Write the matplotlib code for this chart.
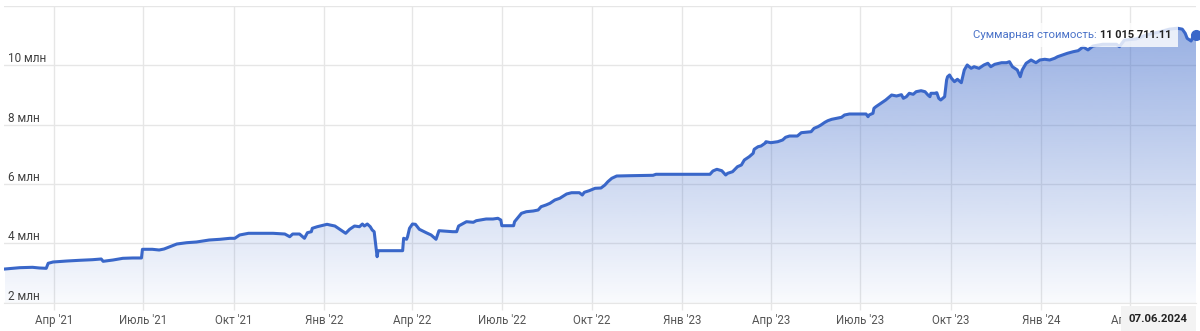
import numpy as np
import pandas as pd
import matplotlib
matplotlib.use('Agg')
import matplotlib.pyplot as plt
import matplotlib.dates as mdates
import matplotlib.transforms as mtransforms
from matplotlib.patches import Rectangle

plt.rcParams['font.family'] = ['Roboto', 'DejaVu Sans']

# ---- данные: стоимость портфеля, млн руб ----
dates = [
    "2021-02-10", "2021-02-18", "2021-02-25", "2021-03-10", "2021-03-17", "2021-03-24", "2021-03-26", "2021-03-31",
    "2021-04-14", "2021-04-27", "2021-05-10", "2021-05-19", "2021-05-21", "2021-05-31", "2021-06-10", "2021-06-20", "2021-06-29",
    "2021-06-30", "2021-07-10", "2021-07-17", "2021-07-22", "2021-07-28", "2021-08-04", "2021-08-14", "2021-08-24", "2021-09-06",
    "2021-09-17", "2021-09-27", "2021-10-02", "2021-10-07", "2021-10-16", "2021-10-28", "2021-11-10", "2021-11-22", "2021-11-27",
    "2021-11-30", "2021-12-07", "2021-12-12", "2021-12-15", "2021-12-19", "2021-12-20", "2021-12-25", "2022-01-04", "2022-01-07",
    "2022-01-12", "2022-01-17", "2022-01-23", "2022-01-27", "2022-02-01", "2022-02-06", "2022-02-09", "2022-02-11", "2022-02-14",
    "2022-02-17", "2022-02-19", "2022-02-21", "2022-02-22", "2022-02-24", "2022-02-25", "2022-03-22", "2022-03-23", "2022-03-26",
    "2022-03-27", "2022-03-29", "2022-04-01", "2022-04-04", "2022-04-08", "2022-04-15", "2022-04-20", "2022-04-25", "2022-04-28",
    "2022-05-12", "2022-05-16", "2022-05-18", "2022-05-26", "2022-06-02", "2022-06-05", "2022-06-15", "2022-06-22", "2022-06-27",
    "2022-06-30", "2022-07-01", "2022-07-13", "2022-07-14", "2022-07-21", "2022-07-26", "2022-08-02", "2022-08-07", "2022-08-10",
    "2022-08-15", "2022-08-19", "2022-08-24", "2022-08-29", "2022-09-05", "2022-09-10", "2022-09-18", "2022-09-21", "2022-09-23",
    "2022-09-28", "2022-10-04", "2022-10-10", "2022-10-14", "2022-10-17", "2022-10-21", "2022-10-26", "2022-11-08", "2022-12-02",
    "2022-12-05", "2023-01-29", "2023-02-01", "2023-02-05", "2023-02-10", "2023-02-14", "2023-02-16", "2023-02-21", "2023-02-26",
    "2023-03-02", "2023-03-05", "2023-03-10", "2023-03-14", "2023-03-15", "2023-03-19", "2023-03-22", "2023-03-26", "2023-03-27",
    "2023-04-01", "2023-04-08", "2023-04-13", "2023-04-16", "2023-04-20", "2023-04-28", "2023-05-02", "2023-05-12", "2023-05-15",
    "2023-05-19", "2023-05-22", "2023-05-26", "2023-05-29", "2023-06-02", "2023-06-07", "2023-06-12", "2023-06-15", "2023-06-20",
    "2023-07-07", "2023-07-09", "2023-07-10", "2023-07-14", "2023-07-15", "2023-07-17", "2023-07-22", "2023-07-27", "2023-07-31",
    "2023-08-02", "2023-08-07", "2023-08-12", "2023-08-14", "2023-08-17", "2023-08-20", "2023-08-24", "2023-08-27", "2023-09-01",
    "2023-09-05", "2023-09-08", "2023-09-10", "2023-09-11", "2023-09-15", "2023-09-17", "2023-09-19", "2023-09-21", "2023-09-25",
    "2023-09-27", "2023-09-28", "2023-09-30", "2023-10-02", "2023-10-05", "2023-10-08", "2023-10-12", "2023-10-15", "2023-10-18",
    "2023-10-22", "2023-10-25", "2023-10-30", "2023-11-04", "2023-11-08", "2023-11-11", "2023-11-15", "2023-11-22", "2023-11-27",
    "2023-11-30", "2023-12-03", "2023-12-08", "2023-12-11", "2023-12-13", "2023-12-17", "2023-12-22", "2023-12-27", "2023-12-31",
    "2024-01-05", "2024-01-10", "2024-01-15", "2024-01-18", "2024-01-23", "2024-01-28", "2024-02-03", "2024-02-08", "2024-02-13",
    "2024-02-18", "2024-02-23", "2024-03-04", "2024-03-18", "2024-03-21", "2024-03-26", "2024-04-07", "2024-04-17", "2024-05-01",
    "2024-05-11", "2024-05-19", "2024-05-24", "2024-05-27", "2024-05-29", "2024-06-02", "2024-06-04", "2024-06-07",
]
values_mln = [
    3.136, 3.159, 3.18, 3.193, 3.17, 3.159, 3.328, 3.372,
    3.405, 3.429, 3.449, 3.473, 3.395, 3.439, 3.496, 3.507, 3.507,
    3.80, 3.80, 3.776, 3.81, 3.887, 3.978, 4.022, 4.046, 4.113,
    4.137, 4.17, 4.17, 4.282, 4.339, 4.339, 4.339, 4.315, 4.224,
    4.315, 4.315, 4.171, 4.359, 4.393, 4.508, 4.561, 4.642, 4.619,
    4.585, 4.474, 4.339, 4.474, 4.585, 4.561, 4.652, 4.585, 4.652,
    4.561, 4.45, 4.393, 4.113, 3.55, 3.753, 3.753, 4.171, 4.137,
    4.224, 4.508, 4.652, 4.642, 4.474, 4.359, 4.282, 4.137, 4.427,
    4.393, 4.393, 4.585, 4.73, 4.71, 4.764, 4.821, 4.821, 4.845,
    4.787, 4.595, 4.595, 4.73, 5.013, 5.067, 5.091, 5.124, 5.236,
    5.293, 5.35, 5.461, 5.519, 5.664, 5.707, 5.707, 5.63, 5.721,
    5.775, 5.856, 5.866, 5.967, 6.078, 6.193, 6.27, 6.28, 6.294,
    6.328, 6.328, 6.439, 6.496, 6.449, 6.304, 6.361, 6.415, 6.584,
    6.641, 6.81, 6.921, 7.036, 7.17, 7.258, 7.281, 7.373, 7.426,
    7.393, 7.426, 7.484, 7.575, 7.618, 7.618, 7.73, 7.763, 7.878,
    7.932, 7.989, 8.08, 8.134, 8.181, 8.215, 8.249, 8.326, 8.36,
    8.36, 8.269, 8.326, 8.384, 8.552, 8.606, 8.721, 8.832, 8.943,
    9.0, 8.967, 9.011, 8.889, 8.943, 9.058, 9.024, 9.112, 9.145,
    9.112, 9.0, 8.943, 9.058, 9.058, 9.078, 8.889, 8.832, 8.943,
    9.506, 9.617, 9.675, 9.563, 9.449, 9.53, 9.415, 9.843, 10.012,
    9.9, 9.954, 9.9, 10.012, 10.069, 9.954, 10.035, 10.089, 10.089,
    10.123, 9.954, 9.843, 9.617, 9.843, 10.069, 10.18, 10.089, 10.18,
    10.204, 10.18, 10.237, 10.291, 10.349, 10.406, 10.46, 10.494, 10.62,
    10.52, 10.65, 10.71, 10.71, 10.63, 10.85, 10.89, 11.02, 11.13,
    11.22, 11.25, 11.22, 11.08, 10.91, 10.82, 10.97, 11.0157,
]
assert len(dates) == len(values_mln)

y_ticks = [2, 4, 6, 8, 10]
month_names = {1: 'Янв', 4: 'Апр', 7: 'Июль', 10: 'Окт'}
tooltip_label = 'Суммарная стоимость: '
tooltip_value = '11 015 711.11'
date_label = '07.06.2024'

LINE_C = '#3a67c9'
GRID_C = '#e6e6e6'

x = pd.to_datetime(dates)
y = np.array(values_mln)
xn = mdates.date2num(x)

fig = plt.figure(figsize=(12, 3.31), dpi=100)
ax = fig.add_axes([4 / 1200, 28.3 / 331, 1192 / 1200, 296.7 / 331])

x0 = xn[0] - 1
x1 = xn[-1]
ax.set_xlim(x0, x1)
ax.set_ylim(2, 12)

# градиентная заливка под линией
poly = ax.fill_between(xn, y, 2, facecolor='none', edgecolor='none')
n = 256
alpha = np.linspace(0.03, 0.56, n)
rgb = matplotlib.colors.to_rgb(LINE_C)
grad = np.zeros((n, 1, 4))
grad[:, 0, :3] = rgb
grad[:, 0, 3] = alpha
im = ax.imshow(grad, extent=[x0, x1, 2, 12],
               origin='lower', aspect='auto', zorder=1, interpolation='bilinear')
im.set_clip_path(poly.get_paths()[0], poly.get_transform())

ax.plot(xn, y, color=LINE_C, lw=2.2, zorder=3, solid_joinstyle='round')
ax.plot([xn[-1]], [y[-1]], 'o', color=LINE_C, ms=7, zorder=7, clip_on=False)

# сетка и оси
ax.set_yticks(y_ticks + [12])
ax.yaxis.set_tick_params(length=0, labelleft=False)
ax.grid(True, axis='both', color=GRID_C, lw=1)
ax.set_axisbelow(True)
for s in ['top', 'right', 'left']:
    ax.spines[s].set_visible(False)
ax.spines['bottom'].set_color(GRID_C)

ax.xaxis.set_major_locator(mdates.MonthLocator(bymonth=[1, 4, 7, 10]))
ax.xaxis.set_major_formatter(plt.FuncFormatter(
    lambda v, p: f"{month_names[mdates.num2date(v).month]} '{mdates.num2date(v).year % 100:02d}"))
ax.tick_params(axis='x', length=5, width=1, color=GRID_C, pad=3, labelsize=8.3, labelcolor='#555555')

ylab_tr = mtransforms.offset_copy(ax.get_yaxis_transform(), fig=fig, x=4, y=3, units='dots')
for t in y_ticks:
    ax.text(0, t, f'{t} млн', transform=ylab_tr, ha='left', va='baseline',
            fontsize=8.5, color='#404040', zorder=4)

# подсказка
val_txt = ax.annotate(tooltip_value, xy=(xn[-1], y[-1]), xytext=(-18, 0), textcoords='offset points',
                      ha='right', va='center', fontsize=7.9, fontweight='bold', color='#222222',
                      zorder=9, annotation_clip=False)
lab_txt = ax.annotate(tooltip_label, xy=(0, 0.5), xycoords=val_txt, ha='right', va='center',
                      fontsize=8.2, color='#4a72c8', zorder=9)

ax.annotate(date_label, xy=(xn[-1], 0), xycoords=ax.get_xaxis_transform(),
            xytext=(-6, -11.5), textcoords='offset points', ha='right', va='center',
            fontsize=8.2, fontweight='bold', color='#222222', zorder=10, annotation_clip=False,
            bbox=dict(boxstyle='square,pad=0.7', fc='#f3f3f3', ec='none'))

fig.canvas.draw()
r = fig.canvas.get_renderer()
b1 = val_txt.get_window_extent(r)
b2 = lab_txt.get_window_extent(r)
bx0, bx1 = min(b1.x0, b2.x0) - 7, max(b1.x1, b2.x1) + 7
by0, by1 = min(b1.y0, b2.y0) - 7, max(b1.y1, b2.y1) + 7
ax.add_patch(Rectangle((bx0, by0), bx1 - bx0, by1 - by0, transform=mtransforms.IdentityTransform(),
                       fc='white', ec='none', alpha=0.8, zorder=8))

fig.savefig('out.png', dpi=100)
